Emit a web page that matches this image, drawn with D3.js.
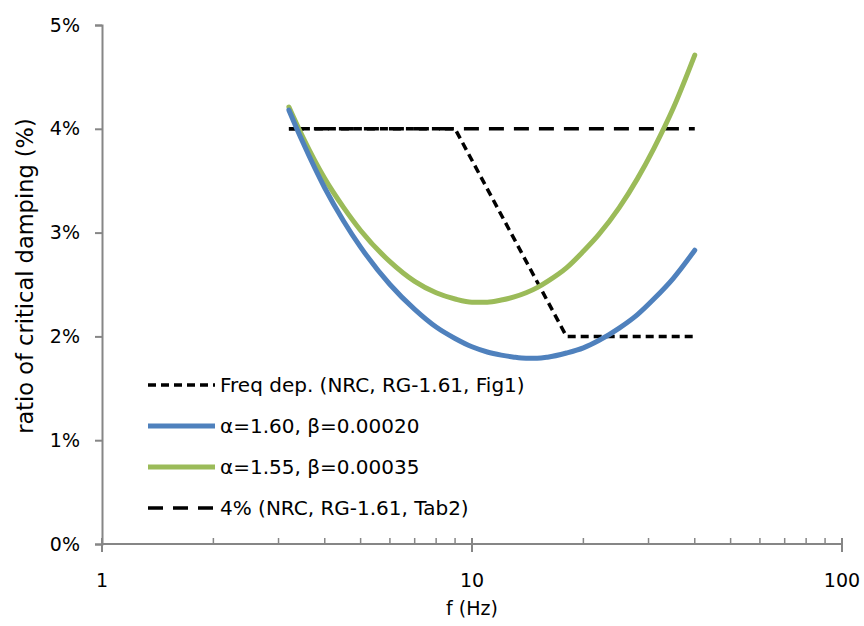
<!DOCTYPE html>
<html><head><meta charset="utf-8">
<script src="https://cdn.jsdelivr.net/npm/d3@7"></script>
<style>body{margin:0;background:#fff}text{font-family:"DejaVu Sans",Verdana,sans-serif}</style>
</head><body>
<svg id="c" width="864" height="626"></svg>
<script>
// frequencies (Hz) at which damping values were read
const freqs = [3.2,3.5,4,4.5,5,6,7,8,9,10,11,12,13,14,15,16,18,20,22,25,28,31,35,40];
// damping ratio (%) - alpha=1.60, beta=0.00020
const blueVals = [4.18,3.86,3.43,3.11,2.86,2.50,2.26,2.09,1.98,1.90,1.85,1.82,1.80,1.79,1.79,1.80,1.84,1.89,1.96,2.08,2.21,2.36,2.56,2.83];
// damping ratio (%) - alpha=1.55, beta=0.00035
const greenVals = [4.21,3.91,3.52,3.24,3.02,2.72,2.53,2.42,2.36,2.33,2.33,2.35,2.38,2.42,2.47,2.53,2.66,2.82,2.98,3.24,3.52,3.81,4.20,4.71];
// frequency dependent (NRC RG-1.61 Fig1)
const freqDepF = [3.2,9,18,40];
const freqDepV = [4,4,2,2];
// constant 4% (NRC RG-1.61 Tab2)
const constF = [3.2,40];
const constV = [4,4];
const xTicks = [1,10,100];
const yTicks = [0,1,2,3,4,5];
const legendLabels = ["Freq dep. (NRC, RG-1.61, Fig1)","α=1.60, β=0.00020","α=1.55, β=0.00035","4% (NRC, RG-1.61, Tab2)"];

const svg = d3.select("#c");
const x = d3.scaleLog().domain([1,100]).range([102,842]);
const y = d3.scaleLinear().domain([0,5]).range([544,25]);
const axisColor = "#868686";

// partially clipped title remnant at top
svg.append("text").attr("x",215).attr("y",-5).attr("text-anchor","middle")
  .style("font-family","'Liberation Serif',serif").style("font-size","26px").text("p");

// y axis
const yAxis = svg.append("g").attr("transform","translate(102,0)")
  .call(d3.axisLeft(y).tickValues(yTicks).tickSize(7).tickPadding(15).tickFormat(d=>d+"%"));
yAxis.select(".domain").attr("stroke",axisColor).attr("stroke-width",2);
yAxis.selectAll(".tick line").attr("stroke",axisColor).attr("stroke-width",2);
yAxis.selectAll(".tick text").style("font-size","19px").style("font-family","'DejaVu Sans',sans-serif").attr("fill","#000");

// x axis
const xAxis = svg.append("g").attr("transform","translate(0,544)");
xAxis.append("line").attr("x1",x(1)).attr("x2",x(100)).attr("stroke",axisColor).attr("stroke-width",2);
const minor = [];
for (let d=1; d<100; d*=10) for (let k=2;k<=9;k++) minor.push(d*k);
xAxis.selectAll(".minor").data(minor).join("line").attr("class","minor")
  .attr("x1",d=>x(d)).attr("x2",d=>x(d)).attr("y1",-6).attr("y2",0)
  .attr("stroke",axisColor).attr("stroke-width",1.5);
xAxis.selectAll(".major").data(xTicks).join("line").attr("class","major")
  .attr("x1",d=>x(d)).attr("x2",d=>x(d)).attr("y1",-6).attr("y2",8)
  .attr("stroke",axisColor).attr("stroke-width",2);
xAxis.selectAll(".lab").data(xTicks).join("text").attr("class","lab")
  .attr("x",d=>x(d)).attr("y",43).attr("text-anchor","middle")
  .style("font-size","19px").text(d=>d);

// axis titles
svg.append("text").attr("x",472).attr("y",615).attr("text-anchor","middle")
  .style("font-size","19px").text("f (Hz)");
svg.append("text").attr("transform","translate(33,276) rotate(-90)").attr("text-anchor","middle")
  .style("font-size","22.5px").text("ratio of critical damping (%)");

const line = d3.line().x(d=>x(d[0])).y(d=>y(d[1]));
const smooth = d3.line().x(d=>x(d[0])).y(d=>y(d[1])).curve(d3.curveMonotoneX);

// series
svg.append("path").datum(d3.zip(constF,constV)).attr("d",line).attr("fill","none")
  .attr("stroke","#000").attr("stroke-width",3.5).attr("stroke-dasharray","15,10");
svg.append("path").datum(d3.zip(freqDepF,freqDepV)).attr("d",line).attr("fill","none")
  .attr("stroke","#000").attr("stroke-width",3.5).attr("stroke-dasharray","8,5");
svg.append("path").datum(d3.zip(freqs,greenVals)).attr("d",smooth).attr("fill","none")
  .attr("stroke","#9BBB59").attr("stroke-width",5).attr("stroke-linecap","round");
svg.append("path").datum(d3.zip(freqs,blueVals)).attr("d",smooth).attr("fill","none")
  .attr("stroke","#4F81BD").attr("stroke-width",5).attr("stroke-linecap","round");

// legend
const legStyles = [
  {c:"#000",w:3.5,da:"8,5"},
  {c:"#4F81BD",w:5,da:null},
  {c:"#9BBB59",w:5,da:null},
  {c:"#000",w:3.5,da:"15,10"}
];
const leg = svg.append("g");
legendLabels.forEach((t,i)=>{
  const yy = 385 + i*41;
  const s = legStyles[i];
  leg.append("line").attr("x1",148).attr("x2",215).attr("y1",yy).attr("y2",yy)
    .attr("stroke",s.c).attr("stroke-width",s.w).attr("stroke-dasharray",s.da);
  leg.append("text").attr("x",220).attr("y",yy+7).style("font-size","20px").text(t);
});
</script>
</body></html>
